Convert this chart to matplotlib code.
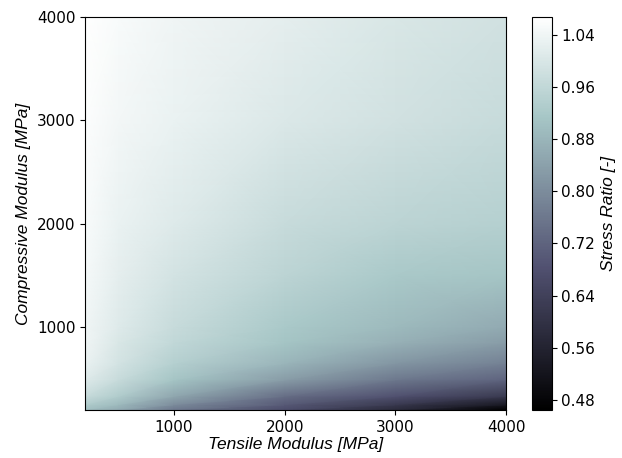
import numpy as np
import matplotlib
matplotlib.use("Agg")
import matplotlib.pyplot as plt

# --- Dados (razão de tensão) ---
tensile_modulus = [200, 500, 1000, 2000, 3000, 4000]
compressive_modulus = [200, 250, 330, 490, 650, 850, 1000, 1500, 2000, 3000, 4000]

# linhas = modulo de compressao, colunas = modulo de tracao
stress_ratio = [
    [0.90, 0.86, 0.76, 0.67, 0.58, 0.465],
    [0.93, 0.89, 0.80, 0.70, 0.62, 0.53],
    [0.97, 0.93, 0.85, 0.74, 0.68, 0.62],
    [1.01, 0.97, 0.91, 0.83, 0.76, 0.72],
    [1.03, 0.99, 0.94, 0.88, 0.82, 0.78],
    [1.04, 1.00, 0.96, 0.91, 0.87, 0.83],
    [1.04, 1.01, 0.97, 0.92, 0.89, 0.86],
    [1.05, 1.02, 0.99, 0.95, 0.92, 0.91],
    [1.055, 1.03, 1.01, 0.97, 0.95, 0.94],
    [1.06, 1.045, 1.03, 1.005, 0.985, 0.97],
    [1.067, 1.055, 1.04, 1.02, 1.0, 0.985],
]

cbar_ticks = [0.48, 0.56, 0.64, 0.72, 0.80, 0.88, 0.96, 1.04]

label_font = {"family": ["Liberation Sans", "DejaVu Sans"], "style": "italic", "size": 12.5}

fig = plt.figure(figsize=(6.22, 4.58), dpi=100)
ax = fig.add_axes([0.137, 0.105, 0.677, 0.858])
cax = fig.add_axes([0.855, 0.105, 0.032, 0.858])

X, Y = np.meshgrid(tensile_modulus, compressive_modulus)
mesh = ax.pcolormesh(X, Y, np.array(stress_ratio), cmap="bone", shading="gouraud")
ax.set_xlim(200, 4000)
ax.set_ylim(200, 4000)
ax.set_xticks([1000, 2000, 3000, 4000])
ax.set_yticks([1000, 2000, 3000, 4000])
ax.tick_params(labelsize=11)
ax.set_xlabel("Tensile Modulus [MPa]", fontdict=label_font, labelpad=2)
ax.set_ylabel("Compressive Modulus [MPa]", fontdict=label_font, labelpad=4)

cbar = fig.colorbar(mesh, cax=cax, ticks=cbar_ticks)
cbar.ax.set_yticklabels([f"{t:.2f}" for t in cbar_ticks])
cbar.ax.tick_params(labelsize=11)
cbar.set_label("Stress Ratio [-]", fontdict=label_font, labelpad=4)

fig.savefig("out.png", dpi=100)
